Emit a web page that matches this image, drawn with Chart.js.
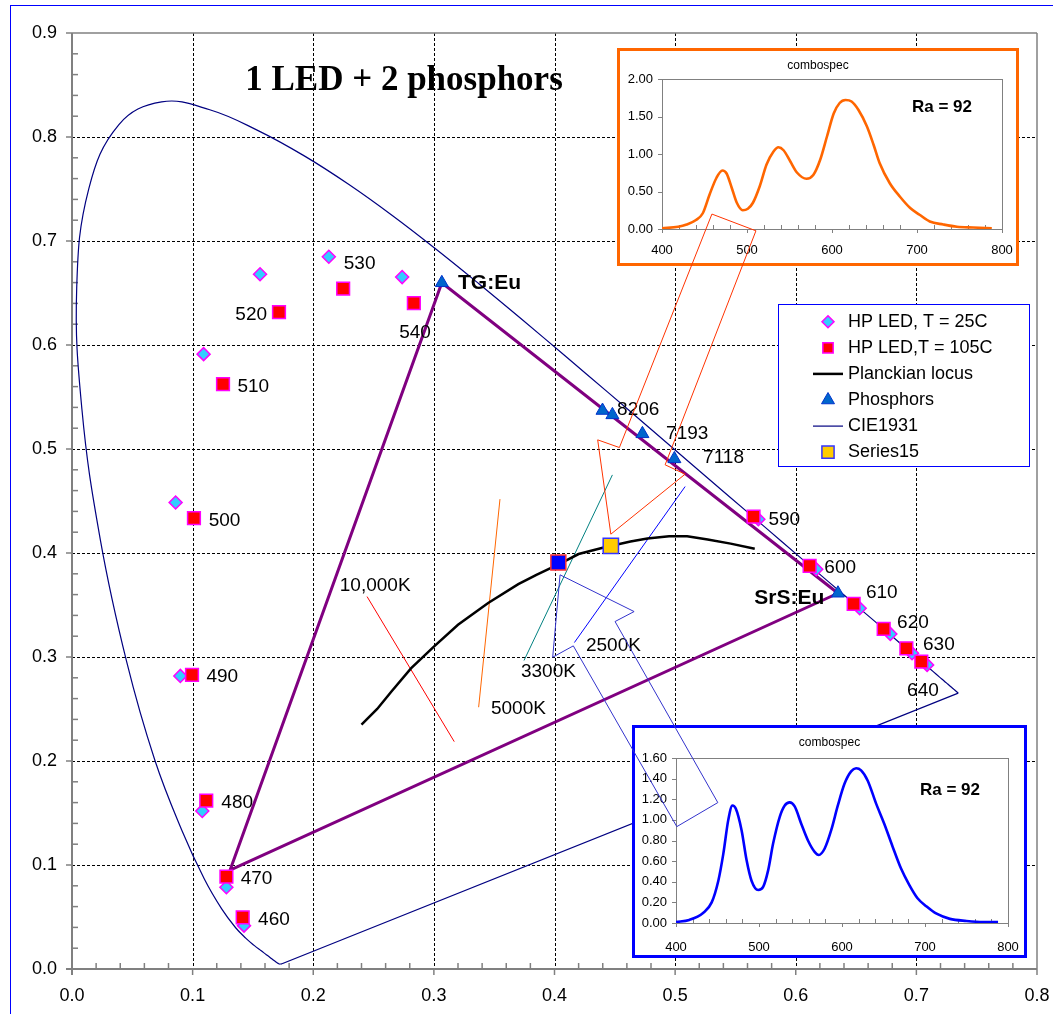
<!DOCTYPE html>
<html><head><meta charset="utf-8">
<script src="https://cdn.jsdelivr.net/npm/chart.js@4.4.1/dist/chart.umd.min.js"></script>
<style>
html,body{margin:0;padding:0;background:#fff;}
#wrap{position:relative;width:1053px;height:1014px;overflow:hidden;background:#fff;}
#frame{position:absolute;left:10px;top:5px;width:1100px;height:1100px;border-left:1px solid #0000FF;border-top:1px solid #0000FF;}
canvas{position:absolute;left:0;top:0;}
.inset{position:absolute;box-sizing:border-box;background:#fff;}
</style></head><body>
<div id="wrap">
 <div id="frame"></div>
 <canvas id="main" width="1053" height="1014"></canvas>
 <div class="inset" style="left:617px;top:48px;width:402px;height:218px;border:3px solid #FF6600;"><canvas id="specTop" width="396" height="212"></canvas></div>
 <div class="inset" style="left:632px;top:725px;width:395px;height:233px;border:3px solid #0000FF;"><canvas id="specBot" width="389" height="227"></canvas></div>
 <canvas id="overlay" width="1053" height="1014"></canvas>
</div>
<script>
// ---------------- DATA ----------------
// CIE 1931 spectral locus (380..700 nm)
const cieX = [0.1741,0.1740,0.1738,0.1736,0.1733,0.1730,0.1726,0.1721,0.1714,0.1703,0.1689,0.1669,0.1644,0.1611,0.1566,0.1510,0.1440,0.1355,0.1241,0.1096,0.0913,0.0687,0.0454,0.0235,0.0082,0.0039,0.0139,0.0389,0.0743,0.1142,0.1547,0.1929,0.2296,0.2658,0.3016,0.3373,0.3731,0.4087,0.4441,0.4788,0.5125,0.5448,0.5752,0.6029,0.6270,0.6482,0.6658,0.6801,0.6915,0.7006,0.7079,0.7140,0.7190,0.7230,0.7260,0.7283,0.7300,0.7311,0.7320,0.7334,0.7344,0.7347];
const cieY = [0.0050,0.0050,0.0049,0.0049,0.0048,0.0048,0.0048,0.0048,0.0051,0.0058,0.0069,0.0086,0.0109,0.0138,0.0177,0.0227,0.0297,0.0399,0.0578,0.0868,0.1327,0.2007,0.2950,0.4127,0.5384,0.6548,0.7502,0.8120,0.8338,0.8262,0.8059,0.7816,0.7543,0.7243,0.6923,0.6589,0.6245,0.5896,0.5547,0.5202,0.4866,0.4544,0.4242,0.3965,0.3725,0.3514,0.3340,0.3197,0.3083,0.2993,0.2920,0.2859,0.2809,0.2770,0.2740,0.2717,0.2700,0.2689,0.2680,0.2666,0.2656,0.2653];
// line of purples (700 nm back to 380 nm)
const purpleX = [0.7347,0.1741];
const purpleY = [0.2653,0.0050];

// HP LED points, wavelengths
const wlText  = ['460','470','480','490','500','510','520','530','540','590','600','610','620','630','640'];
const led25X  = [0.1426,0.128,0.108,0.0898,0.0859,0.1091,0.1559,0.2129,0.2737,0.569,0.617,0.653,0.6784,0.6964,0.7089];
const led25Y  = [0.0417,0.0786,0.152,0.2818,0.4485,0.5912,0.668,0.6848,0.6653,0.4325,0.3844,0.3469,0.3222,0.3036,0.2924];
const led105X = [0.1415,0.128,0.1113,0.0995,0.1011,0.1252,0.1716,0.2248,0.2834,0.565,0.6115,0.648,0.6729,0.6917,0.7041];
const led105Y = [0.0497,0.0888,0.1619,0.2828,0.4335,0.5624,0.6316,0.6543,0.6403,0.435,0.3876,0.351,0.327,0.3084,0.2956];

// Planckian locus
const planckX = [0.240,0.253,0.265,0.281,0.300,0.320,0.345,0.370,0.385,0.405,0.420,0.440,0.463,0.477,0.495,0.510,0.527,0.546,0.566];
const planckY = [0.235,0.250,0.267,0.289,0.310,0.331,0.352,0.370,0.379,0.390,0.399,0.405,0.411,0.414,0.416,0.416,0.413,0.409,0.404];

// Phosphors
const phosX = [0.3066,0.4398,0.448,0.4729,0.4994,0.635];
const phosY = [0.6598,0.537,0.5328,0.5146,0.4905,0.3613];

// Gamut triangle (LED 470 -> TG:Eu -> SrS:Eu)
const gamutX = [0.131,0.3066,0.635,0.131];
const gamutY = [0.095,0.6598,0.3613,0.095];

// Isotherms
const iso10000X = [0.2446,0.3169], iso10000Y = [0.3581,0.2186];
const iso5000X  = [0.3548,0.3371], iso5000Y  = [0.4518,0.2517];
const iso3300X  = [0.448,0.3747],  iso3300Y  = [0.4751,0.2966];
const iso2500X  = [0.5083,0.4165], iso2500Y  = [0.4639,0.3139];

// Mixed white points
const mixX = [0.4032], mixY = [0.3908];
const s15X = [0.4467], s15Y = [0.4068];

// Callouts
const calloutTopX = [0.4467,0.4358,0.4538,0.5305,0.567,0.4917,0.5083,0.4467];
const calloutTopY = [0.4181,0.5088,0.5014,0.7259,0.7098,0.4848,0.4758,0.4181];
const calloutBotX = [0.4046,0.466,0.4502,0.5354,0.5014,0.4156,0.3985,0.4046];
const calloutBotY = [0.379,0.3437,0.3341,0.16,0.1369,0.3107,0.2998,0.379];

// Text notes
const noteText = ['TG:Eu','8206','7193','7118','SrS:Eu','10,000K','5000K','3300K','2500K'];
const noteBold = [true,false,false,false,true,false,false,false,false];

// Spectra (insets)
const specTopWl  = [400,419,429,440,448,456,464,471,476,482,488,495,501,507,515,523,531,537,543,551,559,570,578,586,594,602,609,616,623,631,641,649,656,668,680,692,703,715,731,747,766,788];
const specTopVal = [0.01,0.03,0.06,0.12,0.21,0.46,0.68,0.78,0.74,0.55,0.35,0.25,0.27,0.35,0.57,0.86,1.03,1.09,1.05,0.90,0.75,0.67,0.72,0.92,1.23,1.54,1.68,1.72,1.70,1.59,1.37,1.12,0.88,0.61,0.43,0.28,0.19,0.10,0.06,0.03,0.02,0.01];
const specBotWl  = [400,416,433,443,451,457,463,468,472,479,485,491,499,505,511,517,525,531,537,543,551,559,567,572,579,587,595,603,611,617,623,631,641,651,661,671,681,691,702,714,730,750,770,788];
const specBotVal = [0.01,0.03,0.10,0.20,0.41,0.67,1.00,1.14,1.11,0.90,0.61,0.41,0.32,0.35,0.51,0.77,1.03,1.14,1.17,1.13,0.96,0.80,0.69,0.66,0.72,0.90,1.14,1.35,1.47,1.50,1.48,1.38,1.16,0.96,0.74,0.53,0.37,0.24,0.16,0.09,0.04,0.02,0.01,0.01];

// ---------------- LAYOUT (label anchors, in data units) ----------------
const wlLabelX = [0.1543,0.1398,0.1238,0.1114,0.1133,0.1371,0.1354,0.2253,0.2712,0.5774,0.6237,0.6582,0.684,0.7055,0.6923];
const wlLabelY = [0.0471,0.0863,0.1594,0.2811,0.4312,0.5601,0.629,0.6781,0.6114,0.4319,0.3854,0.3613,0.3325,0.3116,0.2677];
const noteX = [0.32,0.4519,0.4925,0.5232,0.5656,0.222,0.3473,0.3722,0.4261];
const noteY = [0.6598,0.5377,0.5146,0.4915,0.3565,0.3684,0.2507,0.286,0.311];

const FONT = "'Liberation Sans', Arial, Helvetica, sans-serif";
Chart.defaults.font.family = FONT;
Chart.defaults.color = '#000';

const pts = (xs, ys) => xs.map((x, i) => ({x: x, y: ys[i]}));
const fixBox = (w, h) => s => {
  if (w !== null) s.width = w;
  if (h !== null) s.height = h;
  s.paddingLeft = 0; s.paddingRight = 0; s.paddingTop = 0; s.paddingBottom = 0;
};

function drawMarker(ctx, style, x, y, r, fill, stroke, lw) {
  ctx.beginPath();
  if (style === 'rectRot') {
    ctx.moveTo(x, y - r); ctx.lineTo(x + r, y); ctx.lineTo(x, y + r); ctx.lineTo(x - r, y); ctx.closePath();
  } else if (style === 'rect') {
    const s = r * Math.SQRT1_2; ctx.rect(x - s, y - s, 2 * s, 2 * s);
  } else {
    for (let k = 0; k < 3; k++) {
      const a = k * 2 * Math.PI / 3;
      const px = x + Math.sin(a) * r, py = y - Math.cos(a) * r;
      if (k) ctx.lineTo(px, py); else ctx.moveTo(px, py);
    }
    ctx.closePath();
  }
  ctx.fillStyle = fill; ctx.fill();
  if (lw) { ctx.lineWidth = lw; ctx.strokeStyle = stroke; ctx.stroke(); }
}

// ---------------- MAIN CHART ----------------
const lineDs = (label, xs, ys, color, w, order, extra) => Object.assign({
  label: label, data: pts(xs, ys), showLine: true, borderColor: color, backgroundColor: color,
  borderWidth: w, pointRadius: 0, pointHoverRadius: 0, order: order, tension: 0
}, extra || {});

const mainDatasets = [
  {label: 'HP LED, T = 25C', data: pts(led25X, led25Y), showLine: false, pointStyle: 'rectRot', pointRadius: 6.5,
   backgroundColor: '#33CCFF', borderColor: '#FF00FF', borderWidth: 1.5, order: 5, legendOrder: 1, legendRadius: 6},
  {label: 'HP LED,T = 105C', data: pts(led105X, led105Y), showLine: false, pointStyle: 'rect', pointRadius: 9,
   backgroundColor: '#FF0000', borderColor: '#FF00FF', borderWidth: 1.5, order: 4, legendOrder: 2, legendRadius: 7.3},
  lineDs('Planckian locus', planckX, planckY, '#000000', 2.5, 7, {legendOrder: 3}),
  {label: 'Phosphors', data: pts(phosX, phosY), showLine: false, pointStyle: 'triangle', pointRadius: 7.5,
   backgroundColor: '#0066CC', borderColor: '#0033CC', borderWidth: 1, order: 3, legendOrder: 4, legendRadius: 7.5},
  lineDs('CIE1931', cieX, cieY, '#000080', 1.2, 12, {legendOrder: 5, tension: 0.4}),
  lineDs('CIE1931 purples', purpleX, purpleY, '#000080', 1.2, 12),
  {label: 'Series15', data: pts(s15X, s15Y), showLine: false, pointStyle: 'rect', pointRadius: 10.8,
   backgroundColor: '#FFCC00', borderColor: '#3333FF', borderWidth: 1.5, order: 1, legendOrder: 6, legendRadius: 8.6},
  lineDs('Gamut', gamutX, gamutY, '#800080', 3, 11),
  lineDs('10,000K', iso10000X, iso10000Y, '#FF0000', 1, 8),
  lineDs('5000K', iso5000X, iso5000Y, '#FF6600', 1, 8),
  lineDs('3300K', iso3300X, iso3300Y, '#008080', 1, 8),
  lineDs('2500K', iso2500X, iso2500Y, '#0000FF', 1, 8),
  {label: 'Mix', data: pts(mixX, mixY), showLine: false, pointStyle: 'rect', pointRadius: 10.6,
   backgroundColor: '#0000FF', borderColor: '#FF3333', borderWidth: 1.5, order: 2}
];

const mainDecor = {
  id: 'mainDecor',
  beforeDatasetsDraw(chart) {
    const {ctx, chartArea: a, scales: {x, y}} = chart;
    ctx.save();
    const seg = (x1, y1, x2, y2) => { ctx.beginPath(); ctx.moveTo(x1, y1); ctx.lineTo(x2, y2); ctx.stroke(); };
    ctx.strokeStyle = '#000'; ctx.lineWidth = 1; ctx.setLineDash([3, 2]);
    for (let v = 1; v < 8; v++) { const p = Math.round(x.getPixelForValue(v / 10)) + 0.5; seg(p, a.top, p, a.bottom); }
    for (let v = 1; v < 9; v++) { const p = Math.round(y.getPixelForValue(v / 10)) + 0.5; seg(a.left, p, a.right, p); }
    ctx.setLineDash([]);
    ctx.strokeStyle = '#808080'; ctx.lineWidth = 1.5;
    seg(a.left, a.top, a.right, a.top); seg(a.right, a.top, a.right, a.bottom);
    ctx.lineWidth = 2;
    seg(a.left, a.top, a.left, a.bottom + 6); seg(a.left - 6, a.bottom, a.right, a.bottom);
    ctx.lineWidth = 1.5;
    for (let k = 0; k <= 40; k++) {
      const p = x.getPixelForValue(k * 0.02);
      if (k % 5 === 0) seg(p, a.bottom, p, a.bottom + 6); else seg(p, a.bottom, p, a.bottom - 6);
    }
    for (let k = 0; k <= 45; k++) {
      const p = y.getPixelForValue(k * 0.02);
      if (k % 5 === 0) seg(a.left - 6, p, a.left, p); else seg(a.left, p, a.left + 6, p);
    }
    ctx.restore();
  },
  afterDatasetsDraw(chart) {
    const {ctx, scales: {x, y}} = chart;
    ctx.save();
    ctx.fillStyle = '#000'; ctx.textBaseline = 'middle'; ctx.textAlign = 'left';
    ctx.font = '19px ' + FONT;
    wlText.forEach((t, i) => ctx.fillText(t, x.getPixelForValue(wlLabelX[i]), y.getPixelForValue(wlLabelY[i])));
    noteText.forEach((t, i) => {
      ctx.font = (noteBold[i] ? 'bold 21px ' : '19px ') + FONT;
      ctx.fillText(t, x.getPixelForValue(noteX[i]), y.getPixelForValue(noteY[i]));
    });
    ctx.font = 'bold 35px "Liberation Serif", "Times New Roman", serif';
    ctx.textAlign = 'center'; ctx.textBaseline = 'alphabetic';
    ctx.fillText('1 LED + 2 phosphors', 404, 90);
    const box = {l: 778.5, t: 304.5, r: 1029.5, b: 466.5};
    ctx.fillStyle = '#fff'; ctx.fillRect(box.l, box.t, box.r - box.l, box.b - box.t);
    ctx.strokeStyle = '#0000FF'; ctx.lineWidth = 1; ctx.strokeRect(box.l, box.t, box.r - box.l, box.b - box.t);
    const items = chart.data.datasets.filter(d => d.legendOrder).sort((p, q) => p.legendOrder - q.legendOrder);
    ctx.font = '18px ' + FONT; ctx.textAlign = 'left'; ctx.textBaseline = 'middle';
    items.forEach((d, i) => {
      const cy = 321.7 + i * 26.1, cx = 828;
      if (d.showLine) {
        ctx.strokeStyle = d.borderColor; ctx.lineWidth = d.borderWidth;
        ctx.beginPath(); ctx.moveTo(813, cy); ctx.lineTo(843, cy); ctx.stroke();
      } else {
        drawMarker(ctx, d.pointStyle, cx, cy, d.legendRadius, d.backgroundColor, d.borderColor, d.borderWidth);
      }
      ctx.fillStyle = '#000';
      ctx.fillText(d.label, 848, cy);
    });
    ctx.restore();
  }
};

new Chart(document.getElementById('main'), {
  type: 'scatter',
  data: {datasets: mainDatasets},
  options: {
    responsive: false, animation: false, events: [], devicePixelRatio: 1,
    layout: {padding: {left: 0, right: 16, top: 33, bottom: 0}},
    plugins: {legend: {display: false}, tooltip: {enabled: false}},
    scales: {
      x: {type: 'linear', min: 0, max: 0.8,
          ticks: {stepSize: 0.1, padding: 16, font: {size: 18}, color: '#000', callback: v => Number(v).toFixed(1)},
          grid: {display: false, drawTicks: false}, border: {display: false},
          afterFit: fixBox(null, 45)},
      y: {type: 'linear', min: 0, max: 0.9,
          ticks: {stepSize: 0.1, padding: 15, font: {size: 18}, color: '#000', callback: v => Number(v).toFixed(1)},
          grid: {display: false, drawTicks: false}, border: {display: false},
          afterFit: fixBox(72, null)}
    }
  },
  plugins: [mainDecor]
});

// ---------------- INSETS ----------------
function insetChart(id, wl, vals, color, yMax, yStep, dims, ra) {
  const deco = {
    id: 'deco' + id,
    beforeDatasetsDraw(chart) {
      const {ctx, chartArea: a, scales: {x, y}} = chart;
      ctx.save();
      ctx.strokeStyle = '#808080'; ctx.lineWidth = 1;
      ctx.strokeRect(Math.round(a.left) + 0.5, Math.round(a.top) + 0.5, Math.round(a.right - a.left), Math.round(a.bottom - a.top));
      const seg = (x1, y1, x2, y2) => { ctx.beginPath(); ctx.moveTo(x1, y1); ctx.lineTo(x2, y2); ctx.stroke(); };
      for (let v = 400; v <= 800; v += 20) {
        const p = Math.round(x.getPixelForValue(v)) + 0.5;
        if (v % 100 === 0) seg(p, a.bottom, p, a.bottom + 4); else seg(p, a.bottom, p, a.bottom - 4);
      }
      for (let v = 0; v <= yMax + 1e-9; v += yStep) {
        const p = Math.round(y.getPixelForValue(v)) + 0.5;
        seg(a.left - 4, p, a.left, p);
      }
      ctx.restore();
    },
    afterDatasetsDraw(chart) {
      const ctx = chart.ctx;
      ctx.save();
      ctx.fillStyle = '#000'; ctx.textAlign = 'center'; ctx.textBaseline = 'middle';
      ctx.font = '12px ' + FONT;
      ctx.fillText('combospec', chart.width / 2, 15);
      ctx.font = 'bold 17px ' + FONT;
      ctx.fillText('Ra = 92', ra.x, ra.y);
      ctx.restore();
    }
  };
  new Chart(document.getElementById(id), {
    type: 'scatter',
    data: {datasets: [{data: pts(wl, vals), showLine: true, borderColor: color, borderWidth: 2.6,
      pointRadius: 0, pointHoverRadius: 0, cubicInterpolationMode: 'monotone'}]},
    options: {
      responsive: false, animation: false, events: [], devicePixelRatio: 1,
      layout: {padding: {left: 0, right: dims.right, top: dims.top, bottom: 0}},
      plugins: {legend: {display: false}, tooltip: {enabled: false}},
      scales: {
        x: {type: 'linear', min: 400, max: 800,
            ticks: {stepSize: 100, padding: dims.xPad, font: {size: 13}, color: '#000'},
            grid: {display: false, drawTicks: false}, border: {display: false},
            afterFit: fixBox(null, dims.xH)},
        y: {type: 'linear', min: 0, max: yMax,
            ticks: {stepSize: yStep, padding: 9, font: {size: 13}, color: '#000', callback: v => Number(v).toFixed(2)},
            grid: {display: false, drawTicks: false}, border: {display: false},
            afterFit: fixBox(dims.yW, null)}
      }
    },
    plugins: [deco]
  });
}

insetChart('specTop', specTopWl, specTopVal, '#FF6600', 2.0, 0.5,
  {right: 14, top: 28, xH: 34, yW: 42, xPad: 14}, {x: 322, y: 56});
insetChart('specBot', specBotWl, specBotVal, '#0000FF', 1.6, 0.2,
  {right: 16, top: 30, xH: 32, yW: 41, xPad: 17}, {x: 315, y: 62});

// ---------------- OVERLAY (callouts) ----------------
new Chart(document.getElementById('overlay'), {
  type: 'scatter',
  data: {datasets: [
    lineDs('calloutTop', calloutTopX, calloutTopY, '#FF3300', 1, 1),
    lineDs('calloutBot', calloutBotX, calloutBotY, '#3333CC', 1, 2)
  ]},
  options: {
    responsive: false, animation: false, events: [], devicePixelRatio: 1,
    layout: {padding: {left: 72, right: 16, top: 33, bottom: 45}},
    plugins: {legend: {display: false}, tooltip: {enabled: false}},
    scales: {
      x: {type: 'linear', display: false, min: 0, max: 0.8},
      y: {type: 'linear', display: false, min: 0, max: 0.9}
    }
  }
});
</script>
</body></html>
